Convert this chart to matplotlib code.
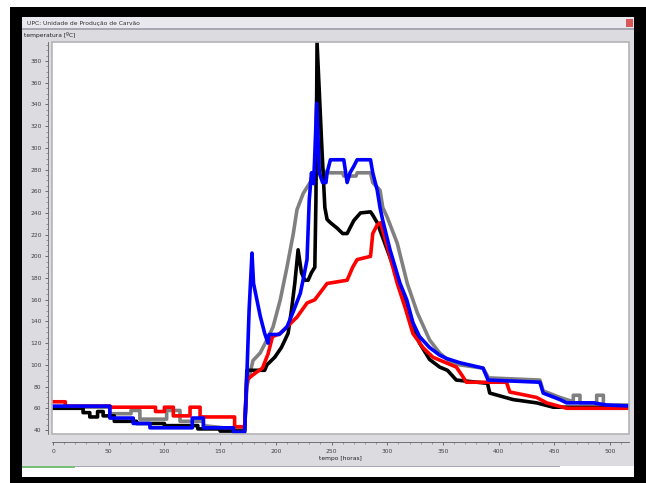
import matplotlib
matplotlib.use("Agg")
import matplotlib.pyplot as plt
from matplotlib.patches import Rectangle
from matplotlib.ticker import MultipleLocator

# temperature readings (hours, degC)
red_h = [0, 11, 11, 51, 51, 92, 92, 100, 100, 108, 108, 123, 123, 132, 132, 163, 163, 172,
         174, 176, 181, 188, 193, 197, 204, 210, 219, 228, 235, 246, 264, 269, 273, 285,
         287, 291, 294, 300, 309, 316, 323, 332, 341, 362, 368, 371, 407, 410, 434, 443,
         461, 520]
red_t = [66, 66, 62, 62, 61, 61, 57, 57, 61, 61, 53, 53, 61, 61, 52, 52, 43, 43,
         86, 88, 92, 97, 110, 126, 129, 135, 144, 157, 160, 175, 178, 190, 197, 200,
         221, 229, 231, 209, 175, 153, 129, 116, 107, 98, 89, 84, 84, 75, 70, 65,
         60, 60]

black_h = [0, 27, 27, 33, 33, 40, 40, 45, 45, 55, 55, 75, 75, 100, 100, 130, 130, 150, 150,
           172, 174, 190, 192, 199, 205, 211, 214, 217, 220, 223, 226, 229, 232, 235, 236,
           237, 241, 244, 246, 249, 255, 260, 264, 267, 270, 276, 285, 287, 291, 300, 311,
           323, 329, 338, 347, 354, 362, 390, 392, 413, 434, 449, 520]
black_t = [60, 60, 56, 56, 52, 52, 57, 57, 53, 53, 48, 48, 46, 46, 44, 44, 41, 41, 39,
           39, 95, 95, 100, 107, 116, 129, 150, 175, 206, 185, 178, 178, 185, 190, 252,
           397, 307, 245, 234, 231, 226, 221, 221, 227, 233, 240, 241, 238, 231, 206, 175,
           138, 120, 105, 98, 95, 86, 83, 74, 68, 65, 61, 61]

gray_h = [0, 51, 51, 70, 70, 78, 78, 102, 102, 114, 114, 135, 135, 172, 174, 179.5, 186,
          192, 197.5, 204, 210, 215.7, 219, 224.6, 230.7, 234, 236, 237, 239, 242, 245,
          260, 261, 272, 273, 285, 287, 293.5, 296, 300, 309, 318, 327, 338, 347, 355,
          365, 386, 391, 437, 440, 455, 467, 467, 473, 473, 488, 488, 494, 494, 520]
gray_t = [61, 61, 55, 55, 58, 58, 50, 50, 58, 58, 48, 48, 44, 40, 80, 104, 111,
          123, 135, 160, 190, 221, 243, 258, 268, 270, 300, 365, 300, 280, 277,
          277, 274, 274, 277, 277, 268, 261, 245, 236, 212, 175, 148, 123, 111, 104,
          100, 97, 88, 86, 76, 70, 66, 72, 72, 65, 65, 72, 72, 63, 63]

blue_h = [0, 51, 51, 72, 72, 87, 87, 125, 125, 135, 135, 162, 162, 172, 174, 176, 178.6,
          180, 183, 186, 190, 193, 194, 203, 210, 216, 222, 225, 228, 230, 232, 234,
          236.7, 239, 242, 245, 246, 249, 261, 264, 266.6, 270, 273, 285, 287, 291,
          293.5, 296, 302.5, 311.5, 317.5, 323, 329, 338, 347, 353, 365, 386, 390.5,
          437, 440, 455, 461, 485, 497, 520]
blue_t = [62, 62, 51, 51, 46, 46, 42, 42, 51, 51, 42, 42, 38, 38, 90, 150, 203,
          175, 160, 145, 129, 120, 128, 128, 135, 150, 166, 181, 197, 252, 277, 267,
          341, 277, 268, 268, 277, 289, 289, 268, 277, 283, 289, 289, 277, 261,
          245, 233, 206, 175, 160, 139, 126, 116, 109, 106, 102, 97, 86,
          84, 74, 68, 65, 65, 63, 62]

x_ticks = [0, 50, 100, 150, 200, 250, 300, 350, 400, 450, 500]
y_ticks = list(range(40, 381, 20))

W, H = 646, 483


def frect(fig, x0, y0, x1, y1, color, z=0):
    # rectangle in screenshot pixel coordinates (y down)
    r = Rectangle((x0 / W, 1 - y1 / H), (x1 - x0) / W, (y1 - y0) / H,
                  transform=fig.transFigure, facecolor=color, edgecolor='none', zorder=z)
    fig.add_artist(r)


fig = plt.figure(figsize=(W / 100, H / 100), dpi=100)
fig.patch.set_facecolor('white')

# window chrome
frect(fig, 10, 7, 646, 483, 'black')
frect(fig, 22, 17, 634, 466, '#dcdce0')
frect(fig, 22, 17, 634, 28, '#e8e8ee')
frect(fig, 22, 28, 634, 29.5, '#a8a8b4')
frect(fig, 626, 19, 633, 27, '#d85858')
frect(fig, 22, 466, 634, 477, 'white')
frect(fig, 22, 466, 75, 467.5, '#78c078')
frect(fig, 75, 466, 560, 467, '#a8a8b8')
fig.text(27 / W, 1 - 23 / H, 'UPC: Unidade de Produção de Carvão', fontsize=4.3,
         color='#303030', va='center', ha='left')
fig.text(24 / W, 1 - 35 / H, 'temperatura [ºC]', fontsize=4.3, color='#202020',
         va='center', ha='left')

x0, y0, x1, y1 = 52, 42, 629, 434
ax = fig.add_axes([x0 / W, 1 - y1 / H, (x1 - x0) / W, (y1 - y0) / H])
ax.set_facecolor('white')

ax.plot(gray_h, gray_t, color='#808080', lw=2.6, solid_joinstyle='round')
ax.plot(black_h, black_t, color='black', lw=2.6, solid_joinstyle='round')
ax.plot(red_h, red_t, color='#ff0000', lw=2.6, solid_joinstyle='round')
ax.plot(blue_h, blue_t, color='#0000ff', lw=2.6, solid_joinstyle='round')

ax.set_xlim(-0.9, 517)
ax.set_ylim(36.3, 397.5)

# plot box
ax.add_patch(Rectangle((0, 0), 1, 1, transform=ax.transAxes, fill=False,
                       edgecolor='#b4b4b8', lw=1.2, clip_on=False, zorder=5))
ax.spines['top'].set_visible(False)
ax.spines['right'].set_visible(False)
ax.spines['left'].set_position(('outward', 3))
ax.spines['bottom'].set_position(('outward', 6))
for s in ('left', 'bottom'):
    ax.spines[s].set_color('#606060')
    ax.spines[s].set_linewidth(0.6)

ax.set_xticks(x_ticks)
ax.set_yticks(y_ticks)
ax.xaxis.set_minor_locator(MultipleLocator(10))
ax.yaxis.set_minor_locator(MultipleLocator(5))
ax.tick_params(which='major', length=2.5, width=0.5, colors='#404040', labelsize=4.3,
               pad=2)
ax.tick_params(which='minor', length=1.3, width=0.4, colors='#606060')
ax.set_xlabel('tempo [horas]', fontsize=4.3, labelpad=2, color='#202020')

fig.savefig('out.png', dpi=100)
